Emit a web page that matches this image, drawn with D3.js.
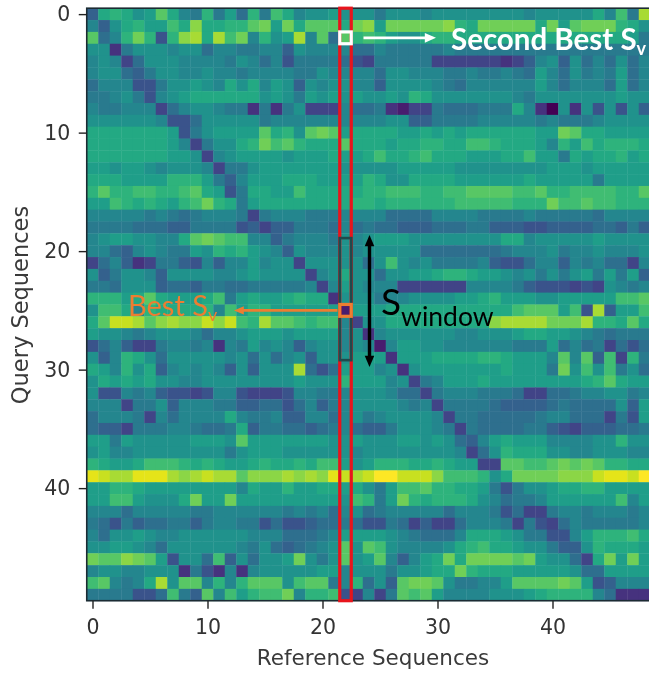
<!DOCTYPE html>
<html>
<head>
<meta charset="utf-8">
<script src="https://d3js.org/d3.v7.min.js"></script>
<style>
    html, body { margin: 0; padding: 0; background: #fff; overflow: hidden; }
    svg { display: block; filter: blur(0.55px); }
    .axis text { font-family: "DejaVu Sans", sans-serif; font-size: 20.5px; fill: #333; }
    .axis path, .axis line { stroke: #222; stroke-width: 1.4; }
    .axis-title { font-family: "DejaVu Sans", sans-serif; fill: #3a3a3a; }
    .note { font-family: Lato, sans-serif; }
</style>
</head>
<body>
<svg id="chart" width="649" height="673"></svg>
<script>
// Score, 0 = darkest purple, 20 = brightest yellow.
// One line per query sequence. The last reference column runs off the page.
const scoreRows = [
[5,11,12,11,9,10,14,11,8,7,12,7,10,6,12,7,13,11,8,9,9,10,9,9,9,7,9,9,9,8,9,9,9,9,9,9,9,9,8,9,9,9,9,9,11,8,13,7,17],
[8,5,9,11,12,10,10,13,11,16,11,11,12,12,14,15,10,15,11,14,14,14,11,15,16,10,15,15,15,15,15,16,12,11,15,15,15,15,15,11,15,10,14,15,15,15,12,11,9],
[14,6,8,12,15,12,4,12,16,17,11,17,13,15,8,12,9,10,17,8,14,6,14,12,13,12,10,9,9,11,12,12,11,11,11,11,11,11,11,11,11,11,11,11,11,11,11,10,7],
[9,9,2,7,9,9,9,8,9,9,6,8,8,7,7,8,8,5,9,8,8,8,8,6,6,8,7,7,7,7,7,8,7,7,7,7,7,7,7,7,7,7,7,7,7,7,7,7,7],
[8,9,8,3,6,9,9,9,8,8,8,8,7,9,8,6,8,4,7,7,7,7,6,4,3,7,7,7,7,7,3,3,3,3,3,3,2,3,5,8,9,5,9,6,8,6,9,6,8],
[8,9,9,6,5,7,9,9,8,8,9,8,8,7,8,8,8,8,7,7,9,8,8,8,8,6,9,9,8,8,8,7,7,8,7,7,8,7,6,10,8,6,9,7,8,7,10,6,8],
[6,8,8,8,4,4,7,9,9,10,9,8,11,9,11,8,10,9,5,9,8,9,9,8,8,5,9,9,9,9,8,7,6,8,8,8,8,8,8,10,8,6,8,8,8,6,10,6,8],
[7,7,8,9,7,4,8,9,10,11,11,11,11,11,11,9,10,9,7,10,9,10,9,10,9,9,10,9,12,11,9,9,9,9,9,9,9,8,7,9,9,9,9,9,9,9,10,9,9],
[8,7,7,8,8,8,3,6,8,9,9,8,7,7,2,7,2,7,9,3,3,3,8,6,6,7,2,1,3,3,7,6,6,6,7,7,7,11,8,2,0,9,2,9,4,9,4,9,5],
[9,9,9,9,9,9,8,4,4,6,9,9,9,9,9,7,8,8,8,8,8,8,8,8,8,8,9,9,5,5,7,7,7,7,8,8,8,8,8,7,8,7,7,7,8,9,9,9,9],
[11,11,11,11,11,11,11,10,4,7,9,10,10,10,10,14,11,12,9,14,15,14,10,11,11,11,11,10,10,11,10,11,10,11,11,11,11,11,11,10,10,15,14,11,11,10,10,10,10],
[11,11,11,11,11,11,11,10,8,3,7,9,9,11,12,15,13,14,12,11,11,11,14,11,11,11,10,11,11,12,12,11,11,13,13,12,11,11,11,10,8,12,10,13,11,12,12,12,11],
[11,11,11,11,11,11,11,10,10,9,3,8,9,10,10,10,10,9,10,10,10,11,10,10,11,13,11,11,12,13,11,11,11,10,10,10,11,11,13,10,10,7,11,10,11,11,12,10,11],
[10,10,9,10,10,9,8,9,9,9,8,3,7,7,9,10,10,10,10,10,10,10,9,9,9,9,9,10,10,10,10,10,9,9,9,9,9,9,9,9,10,10,10,9,10,10,10,10,10],
[11,11,11,10,10,10,10,12,12,12,10,7,5,8,10,10,10,11,11,11,10,10,10,10,12,11,9,9,11,11,11,11,10,10,10,10,10,10,11,10,10,10,10,10,7,10,10,10,10],
[12,14,12,12,13,13,12,12,13,14,11,10,4,7,11,11,10,10,13,11,11,11,11,11,12,12,13,13,13,12,12,13,13,14,14,14,14,13,13,14,12,12,13,13,13,13,12,12,14],
[10,10,13,12,11,12,11,10,12,13,15,12,11,7,10,11,11,11,11,11,11,11,11,12,12,11,12,12,12,12,12,12,13,13,13,13,13,12,12,12,15,13,13,14,13,13,12,12,12],
[8,8,8,8,8,7,8,7,6,7,8,8,8,7,3,7,8,8,8,7,7,7,8,8,8,8,6,6,6,6,8,8,8,8,7,7,7,7,8,7,7,7,7,7,6,8,8,8,8],
[7,7,7,7,6,6,6,5,5,7,7,7,7,4,5,3,5,5,7,7,7,6,8,6,7,6,6,5,5,5,6,6,6,7,7,5,5,5,4,4,5,5,5,5,6,6,5,7,5],
[8,9,10,10,9,9,8,8,11,14,15,14,13,13,8,8,5,7,8,8,8,7,9,8,9,10,10,10,9,9,9,9,9,9,9,9,11,11,8,9,9,9,9,9,10,9,9,9,9],
[8,8,6,5,8,9,8,7,7,10,9,12,11,12,10,9,8,5,9,8,8,8,9,8,9,9,9,9,9,6,6,6,6,6,6,6,7,8,8,8,9,7,8,8,9,8,8,8,9],
[3,6,8,5,2,3,7,7,5,4,8,5,8,8,10,8,9,9,3,9,9,9,9,9,6,9,13,9,8,9,7,7,7,7,8,5,4,4,6,8,8,5,8,7,8,6,6,3,8],
[9,5,7,9,9,8,5,9,9,9,9,8,8,9,10,9,9,9,9,3,8,9,11,9,9,6,9,9,10,10,11,12,12,11,10,10,9,8,9,7,9,7,9,10,7,10,7,10,5],
[7,7,6,9,9,9,5,6,6,5,7,7,6,6,7,7,7,7,7,8,3,8,10,9,8,8,8,3,3,3,3,3,3,8,8,8,8,7,5,4,4,4,3,4,3,9,8,7,8],
[12,12,12,10,11,14,11,10,10,10,11,13,7,10,11,10,10,11,12,11,11,2,9,9,9,7,8,8,9,9,9,9,10,10,11,12,10,10,10,9,9,10,10,10,10,10,13,13,14],
[9,13,13,11,8,12,11,11,11,11,12,8,13,10,12,12,10,10,10,10,10,10,1,10,10,10,11,11,11,11,11,11,11,11,11,11,11,13,14,14,14,10,13,4,17,5,10,10,13],
[11,14,18,18,17,14,16,17,16,16,18,16,18,13,12,17,14,14,13,12,13,13,8,3,9,9,11,11,11,11,11,11,11,11,11,16,17,17,17,17,15,15,15,17,12,12,11,14,11],
[10,9,9,8,7,8,9,9,9,8,6,8,8,9,10,10,10,9,10,10,10,10,8,9,2,8,9,9,9,9,9,9,8,8,9,9,9,10,11,11,10,10,9,8,7,6,7,7,7],
[4,6,8,5,3,3,7,8,8,7,8,2,8,7,10,8,9,8,5,8,9,9,8,9,8,1,8,10,10,9,9,8,8,8,8,8,8,7,7,7,10,6,8,6,7,3,6,4,6],
[9,5,8,12,11,9,6,9,9,9,9,9,8,9,6,9,6,8,9,5,9,9,9,10,10,10,2,10,10,10,11,11,11,11,12,12,11,10,10,10,8,14,8,14,5,13,3,12,7],
[11,10,8,12,9,11,5,8,9,8,9,8,5,9,5,9,9,9,17,6,4,6,10,10,10,8,9,2,9,10,10,10,10,10,10,10,11,10,10,10,7,15,9,13,9,13,7,9,6],
[9,11,10,11,10,11,9,9,8,8,9,9,9,9,9,9,9,9,10,9,9,9,12,10,10,10,8,9,3,7,8,10,10,10,11,10,10,10,10,10,10,10,10,11,12,14,11,10,10],
[9,4,4,8,7,8,5,4,4,3,4,8,8,4,3,3,3,4,8,8,7,7,8,9,9,9,8,6,6,3,7,8,8,8,7,7,7,6,3,3,6,6,7,8,8,9,9,7,8],
[8,8,8,3,7,7,9,5,8,8,8,7,7,5,5,6,6,4,6,8,5,7,8,9,9,9,9,8,7,8,3,7,7,7,7,6,5,5,5,5,6,7,6,6,6,6,9,5,10],
[6,8,8,8,7,3,8,6,8,8,8,8,11,8,7,7,8,5,5,8,8,6,8,9,7,8,9,9,9,9,8,3,7,7,6,6,6,6,6,7,8,8,6,6,6,3,7,4,10],
[6,5,5,3,7,7,7,8,8,7,6,6,7,11,5,7,7,6,6,5,6,7,8,6,5,5,7,9,9,9,8,7,3,7,6,6,6,6,7,7,5,4,3,5,5,5,6,6,7],
[10,10,7,10,9,9,9,9,9,10,10,10,9,14,10,10,10,10,10,10,10,9,9,10,9,9,9,10,10,9,10,9,6,5,8,10,11,10,10,10,8,8,8,8,9,9,12,9,9],
[9,10,8,8,9,9,9,9,9,9,9,9,7,9,10,10,10,9,9,9,9,9,9,8,9,9,9,9,9,9,9,9,8,3,6,9,12,11,11,11,9,9,8,8,9,9,9,8,8],
[12,11,10,10,11,13,13,13,12,11,12,11,10,10,11,12,11,11,12,11,13,13,10,9,10,12,12,12,11,11,12,11,10,10,3,3,14,14,13,13,14,15,14,15,14,12,12,11,11],
[19,18,17,17,19,19,19,17,16,17,18,17,17,14,16,16,16,17,16,17,16,19,18,17,18,20,20,18,18,18,16,13,13,13,12,9,11,15,15,15,15,16,16,16,18,19,19,18,20],
[10,10,12,12,11,10,10,10,10,10,10,10,10,8,11,10,10,12,10,10,11,11,10,11,9,7,10,13,13,14,12,12,11,11,10,7,4,7,9,9,10,11,11,12,12,10,10,10,10],
[10,10,13,13,10,9,9,9,11,15,10,10,15,10,10,10,10,10,10,10,10,10,9,13,12,7,10,15,12,11,12,12,12,11,9,8,6,7,7,8,10,10,10,10,10,10,13,8,10],
[8,8,8,6,8,8,8,8,8,7,7,8,8,8,8,8,8,7,8,7,8,6,8,9,6,7,8,8,8,8,8,6,8,8,8,7,4,6,3,3,7,8,8,7,8,8,8,7,8],
[7,6,4,7,5,6,6,7,7,5,7,8,8,7,7,4,6,4,4,5,6,6,7,6,4,4,7,6,3,5,3,3,6,8,8,8,7,3,7,4,3,6,8,7,7,7,7,7,8],
[8,6,9,9,10,9,8,8,9,9,9,9,9,9,8,8,8,6,6,6,7,8,10,10,10,10,9,8,7,6,6,6,8,11,11,11,10,9,7,7,4,4,8,10,12,12,12,13,11],
[9,9,10,10,9,8,6,9,9,9,9,9,9,8,7,9,6,5,6,7,8,9,14,9,14,13,9,8,8,8,8,9,11,12,13,11,11,10,9,9,7,5,5,9,12,11,11,11,10],
[15,14,14,16,15,14,10,4,9,9,6,13,5,9,6,9,9,10,15,9,7,9,14,9,10,14,8,5,8,10,11,15,11,15,15,15,15,14,15,10,9,9,6,3,11,15,10,15,10],
[8,9,9,8,8,9,9,9,2,7,4,2,8,2,8,9,9,9,9,9,10,10,8,9,9,9,7,9,9,10,11,11,15,12,11,11,11,10,10,10,10,10,9,6,6,10,10,10,10],
[13,14,8,7,8,11,17,9,14,14,8,12,8,12,14,14,14,9,13,14,14,7,8,12,6,9,5,14,15,15,14,9,7,7,8,8,10,14,14,14,14,15,14,10,4,5,8,8,8],
[7,7,7,7,4,4,6,13,7,5,14,8,13,10,12,13,13,15,8,12,12,13,4,3,8,3,7,14,13,14,10,8,8,8,8,9,9,9,10,11,12,12,12,12,8,6,2,2,2]
];
const columnCount = 50;
const rowCount = 50;
const scoreMax = 20;
const xTicks = [0, 10, 20, 30, 40];
const yTicks = [0, 10, 20, 30, 40];
const xTitle = "Reference Sequences";
const yTitle = "Query Sequences";
const chosenReference = 22;
const secondBestQuery = 2;
const bestQuery = 25;
const windowStart = 18.9;
const windowEnd = 29.2;

const PLOT_LEFT = 86.75, PLOT_TOP = 8.2, CELL_W = 11.5, CELL_H = 11.85;
const RED = "#e8141c", ORANGE = "#ed7d31", WINDOW_DARK = "#1f4a4c";

const svg = d3.select("#chart");

let x = d3.scaleLinear()
    .domain([-0.5, columnCount - 0.5])
    .range([PLOT_LEFT, PLOT_LEFT + CELL_W * columnCount]);
let y = d3.scaleLinear()
    .domain([-0.5, rowCount - 0.5])
    .range([PLOT_TOP, PLOT_TOP + CELL_H * rowCount]);
// the scores were read low in the middle, the power bends them back toward the picture
let level = d3.scalePow().exponent(0.85).domain([0, scoreMax]).range([0, 1]);
let colour = v => d3.interpolateViridis(level(v));

// heatmap cells
let cells = scoreRows.flatMap((row, r) => row.map((v, c) => ({ r: r, c: c, v: v })));
svg.append("g").selectAll("rect")
    .data(cells)
    .join("rect")
    .attr("x", d => x(d.c - 0.5))
    .attr("y", d => y(d.r - 0.5))
    .attr("width", x(1) - x(0) + 0.4)
    .attr("height", y(1) - y(0) + 0.4)
    .attr("fill", d => colour(d.v));

// frame and axes
svg.append("rect")
    .attr("x", x(-0.5)).attr("y", y(-0.5))
    .attr("width", x(columnCount - 0.5) - x(-0.5))
    .attr("height", y(rowCount - 0.5) - y(-0.5))
    .attr("fill", "none").attr("stroke", "#1c2b33").attr("stroke-width", 1.6);

svg.append("g").attr("class", "axis")
    .attr("transform", "translate(0," + y(rowCount - 0.5) + ")")
    .call(d3.axisBottom(x).tickValues(xTicks).tickSize(8).tickPadding(10.5).tickSizeOuter(0));
svg.append("g").attr("class", "axis")
    .attr("transform", "translate(" + x(-0.5) + ",0)")
    .call(d3.axisLeft(y).tickValues(yTicks).tickSize(8).tickPadding(8.5).tickSizeOuter(0));
svg.selectAll(".axis .domain").remove();

svg.append("text").attr("class", "axis-title")
    .attr("x", 373).attr("y", 665).attr("text-anchor", "middle")
    .attr("font-size", 21.5)
    .text(xTitle);
svg.append("text").attr("class", "axis-title")
    .attr("transform", "translate(28,305) rotate(-90)").attr("text-anchor", "middle")
    .attr("font-size", 22.5)
    .text(yTitle);

// column and window boxes
function box(colFrom, rowFrom, colTo, rowTo, stroke, width) {
    svg.append("rect")
        .attr("x", x(colFrom)).attr("y", y(rowFrom))
        .attr("width", x(colTo) - x(colFrom)).attr("height", y(rowTo) - y(rowFrom))
        .attr("fill", "none").attr("stroke", stroke).attr("stroke-width", width);
}
box(chosenReference - 0.5, -0.5, chosenReference + 0.5, rowCount - 0.5, RED, 3.2);
box(chosenReference - 0.5, windowStart, chosenReference + 0.5, windowEnd, WINDOW_DARK, 2.6);
box(chosenReference - 0.5, secondBestQuery - 0.5, chosenReference + 0.5, secondBestQuery + 0.5, "#fff", 3.2);
box(chosenReference - 0.5, bestQuery - 0.5, chosenReference + 0.5, bestQuery + 0.5, ORANGE, 3.2);

// arrows, head is a small triangle at the end
function arrowHead(px, py, angle, size, fill) {
    svg.append("path")
        .attr("d", d3.line()([[size, 0], [-size * 0.4, -size * 0.6], [-size * 0.4, size * 0.6]]) + "Z")
        .attr("transform", "translate(" + px + "," + py + ") rotate(" + angle + ")")
        .attr("fill", fill);
}
function arrow(x1, y1, x2, y2, stroke, width, size, both) {
    let angle = Math.atan2(y2 - y1, x2 - x1) * 180 / Math.PI;
    svg.append("line")
        .attr("x1", x1).attr("y1", y1).attr("x2", x2).attr("y2", y2)
        .attr("stroke", stroke).attr("stroke-width", width);
    arrowHead(x2, y2, angle, size, stroke);
    if (both) {
        arrowHead(x1, y1, angle + 180, size, stroke);
    }
}
arrow(x(chosenReference) + 18, y(secondBestQuery), 428, y(secondBestQuery), "#fff", 2.8, 8, false);
arrow(x(chosenReference) - 8, y(bestQuery), 241, y(bestQuery), ORANGE, 2.8, 7, false);
arrow(369.5, 243, 369.5, 359, "#000", 3.4, 8, true);

// annotation labels
let second = svg.append("text").attr("class", "note")
    .attr("x", 451).attr("y", 50).attr("fill", "#fff")
    .attr("font-size", 29.5).attr("font-weight", 700);
second.append("tspan").text("Second Best S");
second.append("tspan").attr("font-size", 18).attr("dy", 5).text("v");

let best = svg.append("text").attr("class", "note")
    .attr("x", 128).attr("y", 316).attr("fill", ORANGE)
    .attr("font-size", 29).attr("font-weight", 400);
best.append("tspan").text("Best S");
best.append("tspan").attr("font-size", 18).attr("dy", 5).text("v");

let win = svg.append("text").attr("class", "note")
    .attr("x", 381).attr("y", 315).attr("fill", "#000")
    .attr("font-size", 37);
win.append("tspan").text("S");
win.append("tspan").attr("font-size", 26.5).attr("dy", 11).text("window");
</script>
</body>
</html>
